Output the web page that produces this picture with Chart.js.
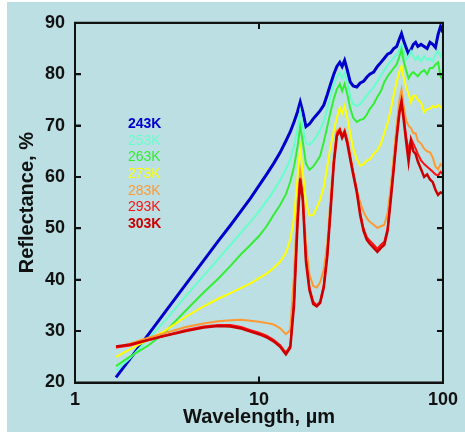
<!DOCTYPE html>
<html>
<head>
<meta charset="utf-8">
<script src="https://cdn.jsdelivr.net/npm/chart.js@4/dist/chart.umd.min.js"></script>
<style>
  body { margin: 0; background: #ffffff; }
  #box { position: absolute; left: 7px; top: 2px; width: 458px; height: 430px; background: #bbdfe2; }
  #myChart { display: block; }
  .ink { position: absolute; background: #111111; pointer-events: none; }
</style>
</head>
<body>
<div id="box"><canvas id="myChart" width="458" height="430"></canvas></div>
<script>
// wavelength grid (um) shared by every temperature curve
const wavelengths = [1.67, 2, 2.5, 3, 4, 5, 6, 7, 8, 9, 10, 11, 12, 13, 14, 14.8, 15.5, 16.2, 16.75, 17.3,
  18, 18.8, 19.7, 20.6, 21.5, 22.5, 23.5, 24.5, 25.5, 26.5, 27.5, 28.3, 29.2, 30.2, 31.3, 32.5, 34, 35.5, 37, 38.5,
  40, 42, 44, 46, 48, 50, 52, 54, 56, 58, 59.5, 61, 63, 65, 67, 69, 71, 73, 76, 79, 82, 85, 88, 91, 94, 97, 100];

const temps = ["243K", "253K", "263K", "273K", "283K", "293K", "303K"];
const colors = ["#0000cc", "#66ffcc", "#33ee33", "#ffff00", "#ff9933", "#ff1111", "#cc0000"];
const widths = [3, 2, 2, 2, 2, 2, 2.5];
const boldLabel = [true, false, false, false, false, false, true];

const r243 = [21.0, 24.7, 29.3, 33.1, 39.1, 43.7, 47.5, 50.6, 53.4, 55.9, 58.3, 60.5, 62.6, 64.7, 67.0, 68.8, 70.7, 72.7, 74.6, 72.7,
  69.8, 70.3, 71.3, 72.1, 72.9, 74.0, 76.0, 78.1, 80.0, 81.5, 82.3, 81.5, 82.7, 80.8, 78.5, 77.7, 77.5, 78.3, 78.6, 79.4,
  80.0, 80.4, 81.5, 82.3, 83.1, 83.9, 84.2, 85.0, 85.4, 86.9, 87.9, 86.6, 85.2, 83.9, 84.8, 85.8, 86.2, 85.4, 85.8, 85.4,
  85.0, 86.2, 85.8, 85.2, 87.7, 89.3, 88.1];
const r253 = [22.3, 24.8, 28.5, 31.5, 36.8, 40.8, 44.0, 46.8, 49.2, 51.3, 53.3, 55.3, 57.3, 59.3, 61.5, 63.5, 66.0, 69.5, 72.8, 70.0,
  66.5, 66.3, 67.0, 68.0, 69.2, 70.8, 73.2, 75.8, 78.0, 79.5, 80.3, 79.2, 80.3, 78.5, 75.8, 74.2, 73.8, 74.2, 75.0, 75.8,
  76.6, 77.5, 78.6, 79.8, 80.8, 81.8, 82.5, 83.2, 83.8, 84.8, 85.8, 84.5, 82.8, 83.5, 84.5, 83.5, 82.8, 83.5, 82.5, 83.5,
  82.8, 83.0, 82.5, 83.8, 84.5, 83.5, 84.8];
const r263 = [23.2, 25.1, 27.2, 29.4, 34.0, 37.5, 40.2, 42.7, 45.0, 46.8, 48.5, 50.4, 52.6, 54.5, 56.6, 59.1, 62.0, 65.9, 69.8, 66.8,
  62.6, 61.4, 62.0, 63.0, 64.1, 66.8, 69.8, 72.7, 75.2, 77.1, 78.1, 76.7, 78.1, 76.1, 73.4, 71.5, 70.7, 71.1, 71.3, 72.1,
  73.2, 74.2, 75.6, 76.7, 78.5, 79.6, 80.4, 81.2, 81.9, 83.5, 84.8, 82.7, 80.8, 79.2, 80.0, 80.4, 80.0, 79.6, 80.4, 80.8,
  80.0, 81.2, 81.2, 81.9, 82.3, 79.6, 78.8];
const r273 = [25.0, 26.5, 28.3, 29.8, 32.8, 34.8, 36.3, 37.4, 38.4, 39.3, 40.3, 41.2, 42.3, 43.5, 45.2, 47.8, 52.0, 60.0, 65.5, 61.0,
  55.0, 52.5, 52.6, 54.0, 55.6, 58.0, 62.0, 66.0, 69.0, 71.5, 73.5, 72.3, 73.8, 71.5, 68.5, 65.5, 63.5, 62.2, 62.5, 63.2,
  63.4, 64.5, 65.2, 66.5, 68.5, 70.5, 73.0, 76.0, 78.5, 80.5, 81.6, 79.5, 77.5, 76.2, 74.5, 75.8, 75.8, 75.0, 74.5, 72.6,
  73.2, 73.3, 73.8, 73.5, 74.0, 73.6, 73.2];
const r283 = [26.8, 27.6, 28.7, 29.5, 30.8, 31.5, 31.9, 32.1, 32.2, 32.0, 31.8, 31.6, 31.3, 30.6, 29.4, 30.2, 41.0, 55.0, 61.0, 57.0,
  47.0, 41.0, 38.8, 38.5, 39.5, 42.0, 47.0, 56.0, 64.0, 69.0, 69.5, 68.2, 69.2, 67.5, 64.5, 61.0, 57.5, 55.0, 53.2, 52.0,
  51.3, 50.7, 50.1, 50.4, 50.7, 53.0, 58.0, 64.0, 70.0, 75.0, 77.0, 74.0, 71.0, 70.0, 69.5, 68.5, 68.5, 67.0, 66.5, 65.5,
  65.0, 64.8, 63.8, 62.0, 61.5, 62.5, 62.0];
const r293 = [26.8, 27.2, 28.2, 29.0, 30.2, 30.9, 31.2, 31.2, 30.8, 30.2, 29.7, 29.1, 28.3, 27.3, 25.8, 27.2, 36.0, 52.0, 59.8, 56.0,
  44.0, 38.5, 35.8, 35.0, 35.8, 39.0, 45.0, 54.0, 63.0, 68.5, 69.3, 68.0, 69.0, 67.0, 64.0, 61.0, 57.5, 53.0, 50.0, 48.3,
  47.6, 46.8, 46.0, 46.8, 47.4, 50.0, 56.0, 62.0, 68.0, 73.0, 75.0, 72.0, 68.0, 65.0, 67.5, 66.5, 65.5, 64.5, 63.2, 62.5,
  62.0, 61.5, 61.0, 60.5, 60.3, 61.0, 60.5];
const r303 = [27.0, 27.4, 28.3, 29.0, 30.0, 30.7, 31.0, 30.9, 30.5, 29.9, 29.4, 28.8, 28.0, 27.0, 25.5, 26.8, 35.0, 51.0, 59.5, 55.5,
  43.5, 38.0, 35.3, 34.8, 35.5, 38.5, 44.5, 53.5, 62.5, 68.0, 69.0, 67.6, 68.6, 66.5, 63.5, 60.5, 57.0, 52.5, 49.5, 47.8,
  47.0, 46.2, 45.4, 46.2, 46.8, 49.5, 55.5, 61.5, 67.5, 72.5, 74.5, 71.5, 67.0, 63.0, 67.0, 65.0, 64.5, 63.0, 61.5, 60.0,
  60.5, 59.5, 59.0, 57.5, 56.5, 57.0, 56.8];

const series = [r243, r253, r263, r273, r283, r293, r303];
const xTicks = [1, 10, 100];
const yTicks = [20, 30, 40, 50, 60, 70, 80, 90];

const FONT = "'Liberation Sans', Arial, sans-serif";
const INK = '#111111';

// frame + inward ticks (one Path2D) and the temperature labels
const framePlugin = {
  id: 'frame',
  afterDraw(chart) {
    const ctx = chart.ctx;
    const xs = chart.scales.x;
    const ys = chart.scales.y;
    const L = xs.getPixelForValue(xTicks[0]);
    const R = xs.getPixelForValue(xTicks[xTicks.length - 1]);
    const T = ys.getPixelForValue(yTicks[yTicks.length - 1]);
    const B = ys.getPixelForValue(yTicks[0]);

    const p = new Path2D();
    p.moveTo(L, T); p.lineTo(R, T); p.lineTo(R, B); p.lineTo(L, B); p.closePath();
    xTicks.forEach(v => {
      const px = xs.getPixelForValue(v);
      p.moveTo(px, T); p.lineTo(px, T + 6);
      p.moveTo(px, B); p.lineTo(px, B - 6);
    });
    yTicks.forEach(v => {
      const py = ys.getPixelForValue(v);
      p.moveTo(L, py); p.lineTo(L + 6, py);
      p.moveTo(R, py); p.lineTo(R - 6, py);
    });

    ctx.save();
    ctx.lineWidth = 2;
    ctx.strokeStyle = INK;
    ctx.stroke(p);

    ctx.textAlign = 'left';
    ctx.textBaseline = 'middle';
    temps.forEach((t, i) => {
      ctx.font = (boldLabel[i] ? 'bold ' : '') + '14px ' + FONT;
      ctx.fillStyle = colors[i];
      ctx.fillText(t, 121, 122 + i * 16.67);
    });
    ctx.restore();
  }
};

// same frame again as html strips, placed from the scale pixels
function addInk(x, y, w, h) {
  const d = document.createElement('div');
  d.className = 'ink';
  d.style.left = x + 'px';
  d.style.top = y + 'px';
  d.style.width = w + 'px';
  d.style.height = h + 'px';
  document.getElementById('box').appendChild(d);
}

function overlayFrame(chart) {
  const xs = chart.scales.x;
  const ys = chart.scales.y;
  const L = Math.round(xs.getPixelForValue(xTicks[0]));
  const R = Math.round(xs.getPixelForValue(xTicks[xTicks.length - 1]));
  const T = Math.round(ys.getPixelForValue(yTicks[yTicks.length - 1]));
  const B = Math.round(ys.getPixelForValue(yTicks[0]));
  addInk(L - 1, T - 1, R - L + 2, 2);
  addInk(L - 1, B - 1, R - L + 2, 2);
  addInk(L - 1, T - 1, 2, B - T + 2);
  addInk(R - 1, T - 1, 2, B - T + 2);
  xTicks.forEach(v => {
    const px = Math.round(xs.getPixelForValue(v));
    addInk(px - 1, T, 2, 6);
    addInk(px - 1, B - 6, 2, 6);
  });
  yTicks.forEach(v => {
    const py = Math.round(ys.getPixelForValue(v));
    addInk(L, py - 1, 6, 2);
    addInk(R - 6, py - 1, 6, 2);
  });
}

function render() {
  const datasets = series.map((vals, i) => ({
    label: temps[i],
    data: wavelengths.map((w, j) => ({x: w, y: vals[j]})),
    borderColor: colors[i],
    backgroundColor: colors[i],
    borderWidth: widths[i],
    pointRadius: 0,
    tension: 0,
    fill: false,
    order: series.length - i
  }));

  const config = {
    type: 'line',
    data: { datasets: datasets },
    options: {
      responsive: false,
      animation: false,
      layout: { padding: { top: 18, right: 17, left: 0, bottom: 0 } },
      plugins: { legend: { display: false }, tooltip: { enabled: false } },
      scales: {
        x: {
          type: 'logarithmic',
          min: 1,
          max: 100,
          grid: { display: false, drawTicks: false },
          border: { display: false },
          afterBuildTicks: s => { s.ticks = xTicks.map(v => ({ value: v })); },
          afterFit: s => { s.height = 49.5; },
          ticks: {
            autoSkip: false,
            maxRotation: 0,
            padding: 7,
            color: INK,
            font: { family: FONT, size: 18, weight: 'bold' },
            callback: v => String(v)
          },
          title: {
            display: true,
            text: 'Wavelength, µm',
            color: INK,
            font: { family: FONT, size: 20, weight: 'bold' },
            padding: { top: 0, bottom: 3 }
          }
        },
        y: {
          min: 20,
          max: 90,
          grid: { display: false, drawTicks: false },
          border: { display: false },
          afterBuildTicks: s => { s.ticks = yTicks.map(v => ({ value: v })); },
          afterFit: s => { s.width = 68; },
          ticks: {
            padding: 10,
            color: INK,
            font: { family: FONT, size: 18, weight: 'bold' }
          },
          title: {
            display: true,
            text: 'Reflectance, %',
            color: INK,
            font: { family: FONT, size: 20, weight: 'bold' },
            padding: { top: 8, bottom: 0 }
          }
        }
      }
    },
    plugins: [framePlugin]
  };

  const ctx = document.getElementById('myChart').getContext('2d');
  const chart = new Chart(ctx, config);
  overlayFrame(chart);
}

window.onload = function() {
  render();
}
</script>
</body>
</html>
